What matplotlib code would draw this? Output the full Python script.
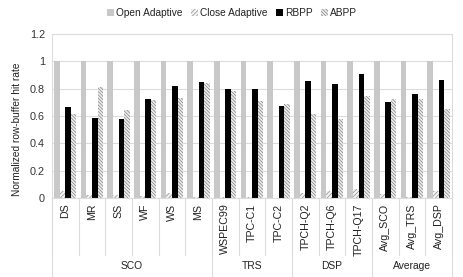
import numpy as np
import matplotlib
matplotlib.use("Agg")
import matplotlib.pyplot as plt
from matplotlib.patches import Patch

plt.rcParams['font.family'] = ['Liberation Sans', 'DejaVu Sans']
plt.rcParams['hatch.linewidth'] = 0.5

# data
labels = ["DS", "MR", "SS", "WF", "WS", "MS", "WSPEC99", "TPC-C1", "TPC-C2",
          "TPCH-Q2", "TPCH-Q6", "TPCH-Q17", "Avg_SCO", "Avg_TRS", "Avg_DSP"]
groups = ["SCO", "TRS", "DSP", "Average"]
group_sizes = [6, 3, 3, 3]
open_adaptive = [1, 1, 1, 1, 1, 1, 1, 1, 1, 1, 1, 1, 1, 1, 1]
close_adaptive = [0.054, 0.024, 0.022, 0.015, 0.040, 0.007, 0.005, 0.005, 0.003,
                  0.034, 0.049, 0.063, 0.029, 0.007, 0.049]
rbpp = [0.667, 0.584, 0.581, 0.725, 0.820, 0.852, 0.798, 0.798, 0.676,
        0.859, 0.837, 0.908, 0.706, 0.759, 0.866]
abpp = [0.616, 0.813, 0.647, 0.718, 0.735, 0.839, 0.786, 0.708, 0.691,
        0.618, 0.577, 0.745, 0.727, 0.727, 0.650]

fig = plt.figure(figsize=(4.64, 2.77), dpi=100)
ax = fig.add_axes([0.112, 0.285, 0.862, 0.592])

x = np.arange(len(labels))
w = 0.21
grid_col = "#dcdcdc"
close_hatch = "////////"
abpp_hatch = "\\\\\\\\\\\\\\\\\\\\"

ax.bar(x - 1.5 * w, open_adaptive, w, color="#c8c8c8", zorder=2)
ax.bar(x - 0.5 * w, close_adaptive, w, color="#f4f4f4", edgecolor="#8c8c8c",
       hatch=close_hatch, linewidth=0, zorder=2)
ax.bar(x + 0.5 * w, rbpp, w, color="black", zorder=2)
ax.bar(x + 1.5 * w, abpp, w, color="#eeeeee", edgecolor="#808080",
       hatch=abpp_hatch, linewidth=0, zorder=2)

ax.set_xlim(-0.5, len(labels) - 0.5)
ax.set_ylim(0, 1.2)
ax.set_yticks(np.arange(0, 1.21, 0.2))
ax.set_yticklabels(["0", "0.2", "0.4", "0.6", "0.8", "1", "1.2"], fontsize=7.8, color="#333333")
ax.yaxis.grid(True, color=grid_col, linewidth=0.8, zorder=0)
ax.tick_params(axis="y", length=0, pad=5)
ax.set_ylabel("Normalized row-buffer hit rate", fontsize=7.3, color="#222222")
ax.yaxis.set_label_coords(-0.075, 0.418)

ax.set_xticks(x)
ax.set_xticklabels(labels, rotation=90, fontsize=7.7, va="top", color="#222222")
ax.tick_params(axis="x", length=0, pad=4)

for s in ax.spines.values():
    s.set_color(grid_col)
    s.set_linewidth(0.8)

# table-like separators under the axis
trans = ax.get_xaxis_transform()
for k in range(len(labels) + 1):
    ax.plot([k - 0.5, k - 0.5], [0, -0.348], transform=trans, color=grid_col,
            linewidth=0.8, clip_on=False)
start = 0
for g, n in zip(groups, group_sizes):
    ax.plot([start - 0.5, start - 0.5], [0, -0.49], transform=trans, color=grid_col,
            linewidth=0.8, clip_on=False)
    ax.text(start + n / 2 - 0.5, -0.415, g, transform=trans, ha="center", va="center",
            fontsize=7.4, color="#222222")
    start += n
ax.plot([start - 0.5, start - 0.5], [0, -0.49], transform=trans, color=grid_col,
        linewidth=0.8, clip_on=False)

handles = [Patch(facecolor="#c8c8c8", label="Open Adaptive"),
           Patch(facecolor="#f4f4f4", edgecolor="#8c8c8c", hatch=close_hatch, linewidth=0, label="Close Adaptive"),
           Patch(facecolor="black", label="RBPP"),
           Patch(facecolor="#eeeeee", edgecolor="#808080", hatch=abpp_hatch, linewidth=0, label="ABPP")]
fig.legend(handles=handles, loc="center", bbox_to_anchor=(0.5, 0.952), ncol=4,
           frameon=False, fontsize=7.3, handlelength=0.7, handleheight=0.7,
           handletextpad=0.2, columnspacing=0.8, labelcolor="#222222")

fig.savefig("out.png", dpi=100)
